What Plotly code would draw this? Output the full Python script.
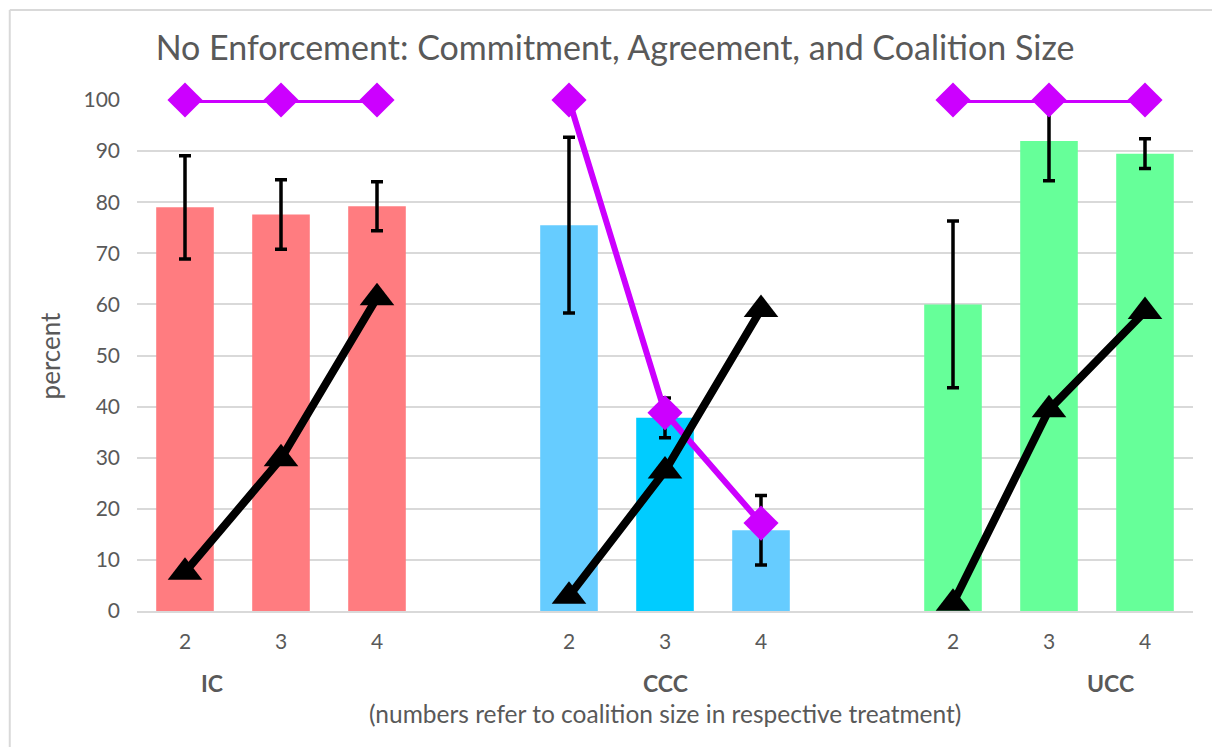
import plotly.graph_objects as go

# data
groups = ["IC", "CCC", "UCC"]
sizes = ["2", "3", "4"]

bar_pct = [79.0, 77.6, 79.2, 75.5, 37.8, 15.8, 60.0, 92.0, 89.5]
bar_err = [10.1, 6.8, 4.8, 17.2, 3.9, 6.8, 16.3, 7.8, 2.9]
triangle_pct = [7.6, 29.8, 61.3, 2.9, 27.4, 59.0, 1.5, 39.4, 58.6]
diamond_pct = [100, 100, 100, 100, 38.8, 17.2, 100, 100, 100]

bar_colors = ["#FF7C80", "#FF7C80", "#FF7C80",
              "#66CCFF", "#00CCFF", "#66CCFF",
              "#66FF99", "#66FF99", "#66FF99"]

GRAY = "#595959"
FONT = "Lato"

# slot positions: 3 bars per group, one empty slot between groups
xpos = [g * 4 + s for g in range(len(groups)) for s in range(len(sizes))]
ticktext = [s for g in groups for s in sizes]


def broken(vals):
    # split a series into one segment per treatment
    xs, ys = [], []
    for g in range(len(groups)):
        for s in range(len(sizes)):
            i = g * len(sizes) + s
            xs.append(xpos[i])
            ys.append(vals[i])
        xs.append(None)
        ys.append(None)
    return xs, ys


fig = go.Figure()

fig.add_trace(go.Bar(
    x=xpos, y=bar_pct, width=0.6,
    marker=dict(color=bar_colors, line=dict(width=0)),
    error_y=dict(type="data", array=bar_err, color="black", thickness=3.5, width=6),
    showlegend=False, name="bars",
))

dx, dy = broken(diamond_pct)
fig.add_trace(go.Scatter(
    x=dx, y=dy, mode="lines+markers",
    line=dict(color="#CC00FF", width=6),
    marker=dict(symbol="diamond", size=27, color="#CC00FF"),
    cliponaxis=False, showlegend=False, name="diamond",
))

tx, ty = broken(triangle_pct)
fig.add_trace(go.Scatter(
    x=tx, y=ty, mode="lines+markers",
    line=dict(color="black", width=8),
    marker=dict(symbol="triangle-up", size=30, color="black"),
    cliponaxis=False, showlegend=False, name="triangle",
))

# treatment labels and axis titles
group_x = [0.28, 5.0, 9.64]
annotations = [
    dict(x=gx, y=-0.141, xref="x", yref="paper", text="<b>%s</b>" % g,
         xanchor="center", yanchor="middle",
         showarrow=False, font=dict(family=FONT, size=23, color=GRAY))
    for gx, g in zip(group_x, groups)
]
annotations.append(dict(
    x=5.0, y=-0.2, xref="x", yref="paper", xanchor="center", yanchor="middle",
    text="(numbers refer to coalition size in respective treatment)",
    showarrow=False, font=dict(family=FONT, size=24.5, color=GRAY)))
annotations.append(dict(
    x=-0.0825, y=0.5, xref="paper", yref="paper", text="percent", textangle=-90,
    xanchor="center", yanchor="middle",
    showarrow=False, font=dict(family=FONT, size=26, color=GRAY)))

# chart-area border: only the top and left edges show in the reference
border = dict(color="#D9D9D9", width=2)
shapes = [
    dict(type="line", xref="paper", yref="paper",
         x0=-0.1205, x1=1.05, y0=1.176, y1=1.176, line=border, layer="above"),
    dict(type="line", xref="paper", yref="paper",
         x0=-0.1205, x1=-0.1205, y0=-0.3, y1=1.176, line=border, layer="above"),
]

# sized so the page (with its 8px body margin) fits the window exactly
fig.update_layout(
    width=1204, height=739,
    margin=dict(l=129, r=19, t=92, b=136),
    paper_bgcolor="white", plot_bgcolor="white",
    font=dict(family=FONT, size=21, color=GRAY),
    title=dict(
        text="No Enforcement: Commitment, Agreement, and Coalition Size",
        x=0.5042, xref="container", xanchor="center",
        y=0.9459, yref="container", yanchor="middle",
        font=dict(family=FONT, size=34, color=GRAY),
    ),
    xaxis=dict(
        range=[-0.5, 10.5], tickvals=xpos, ticktext=ticktext,
        showgrid=False, zeroline=False, showline=True,
        linecolor="#D9D9D9", linewidth=1.5, ticks="",
        ticklabelstandoff=11, tickfont=dict(size=21, color=GRAY),
    ),
    yaxis=dict(
        range=[0, 100], dtick=10, showgrid=True, gridcolor="#D9D9D9",
        gridwidth=1.5, zeroline=False, showline=False, ticks="",
        ticklabelstandoff=16, tickfont=dict(size=21, color=GRAY),
    ),
    annotations=annotations,
    shapes=shapes,
)

fig.write_html("out.html")
